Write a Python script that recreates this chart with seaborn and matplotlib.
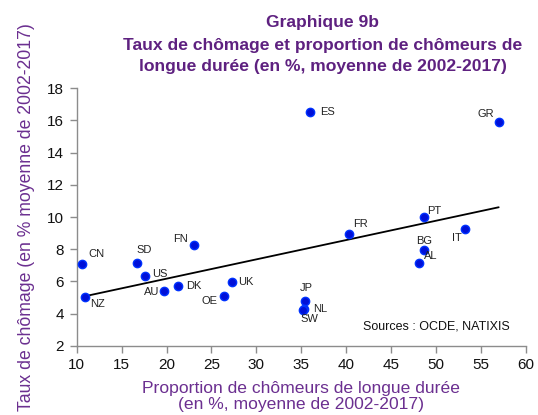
import matplotlib
matplotlib.use("Agg")
import matplotlib.pyplot as plt
import seaborn as sns
import pandas as pd

countries = ["CN", "NZ", "SD", "US", "AU", "DK", "FN", "OE", "UK", "ES", "GR",
             "PT", "FR", "IT", "BG", "AL", "JP", "NL", "SW"]
long_term_share = [10.6, 10.9, 16.7, 17.6, 19.7, 21.3, 23.1, 26.4, 27.3, 36.0, 57.0,
                   48.7, 40.3, 53.2, 48.7, 48.1, 35.4, 35.35, 35.25]
unemployment = [7.08, 5.01, 7.14, 6.33, 5.40, 5.73, 8.26, 5.07, 5.94, 16.53, 15.93,
                9.98, 8.94, 9.23, 7.93, 7.16, 4.80, 4.27, 4.21]

# label offsets in points (dx, dy, ha)
label_pos = {
    "CN": (4.5, 7, "left"), "NZ": (4, -5, "left"), "SD": (5, 9.5, "center"),
    "US": (5.5, 1.5, "left"), "AU": (-3, -0.5, "right"), "DK": (6, 0, "left"),
    "FN": (-4.5, 4.5, "right"), "OE": (-5, -3.5, "right"), "UK": (4.5, 0, "left"),
    "ES": (7, 0, "left"), "GR": (-3, 5.5, "right"), "PT": (2, 4.5, "left"),
    "FR": (3.5, 7, "left"), "IT": (-2, -6, "right"), "BG": (0, 7, "center"),
    "AL": (4, 4.5, "left"), "JP": (1, 9, "center"), "NL": (6, 0, "left"),
    "SW": (4, -6.5, "center"),
}

df = pd.DataFrame({"country": countries, "x": long_term_share, "y": unemployment})

sns.set_style("white")
plt.rcParams["font.family"] = ["Liberation Sans", "DejaVu Sans"]

fig = plt.figure(figsize=(5.38, 4.15), dpi=100)
ax = fig.add_axes([0.1426, 0.167, 0.8344, 0.6202])

# linear trend line (OLS over the data range)
sns.regplot(data=df, x="x", y="y", ax=ax, scatter=False, ci=None, truncate=True,
            line_kws={"color": "black", "linewidth": 1.3})
sns.scatterplot(data=df, x="x", y="y", ax=ax, color="#0010d8", edgecolor="#0033ff",
                linewidth=1.0, s=36, zorder=3)

for c, xv, yv in zip(countries, long_term_share, unemployment):
    dx, dy, ha = label_pos[c]
    ax.annotate(c, (xv, yv), xytext=(dx, dy), textcoords="offset points",
                ha=ha, va="center", fontsize=8, color="#222222")

ax.set_xlim(10, 60)
ax.set_ylim(2, 18)
ax.set_xticks(range(10, 61, 5))
ax.set_yticks(range(2, 19, 2))
ax.tick_params(axis="both", labelsize=11, length=5, width=1, color="#8c8c8c",
               direction="out", pad=4, bottom=True, left=True, labelcolor="#111111")
for s in ["top", "right"]:
    ax.spines[s].set_visible(False)
for s in ["left", "bottom"]:
    ax.spines[s].set_color("#8c8c8c")
    ax.spines[s].set_linewidth(1)

purple = "#6b2f90"
ax.set_xlabel("Proportion de chômeurs de longue durée\n(en %, moyenne de 2002-2017)",
              fontsize=12.6, color=purple, linespacing=1.15, labelpad=6)
ax.set_ylabel("Taux de chômage (en % moyenne de 2002-2017)", fontsize=12.7,
              color=purple, labelpad=8.5)

title_color = "#5e2180"
title_lines = ["Graphique 9b",
               "Taux de chômage et proportion de chômeurs de",
               "longue durée (en %, moyenne de 2002-2017)"]
baselines_px = [26.5, 50, 70.5]
for line, ypx in zip(title_lines, baselines_px):
    fig.text(0.60, 1 - ypx / 415, line, ha="center", va="baseline", fontsize=12.6,
             fontweight="bold", color=title_color)

ax.text(0.638, 0.075, "Sources : OCDE, NATIXIS", transform=ax.transAxes,
        fontsize=9, ha="left", va="center", color="#111111")

fig.savefig("out.png", dpi=100)
